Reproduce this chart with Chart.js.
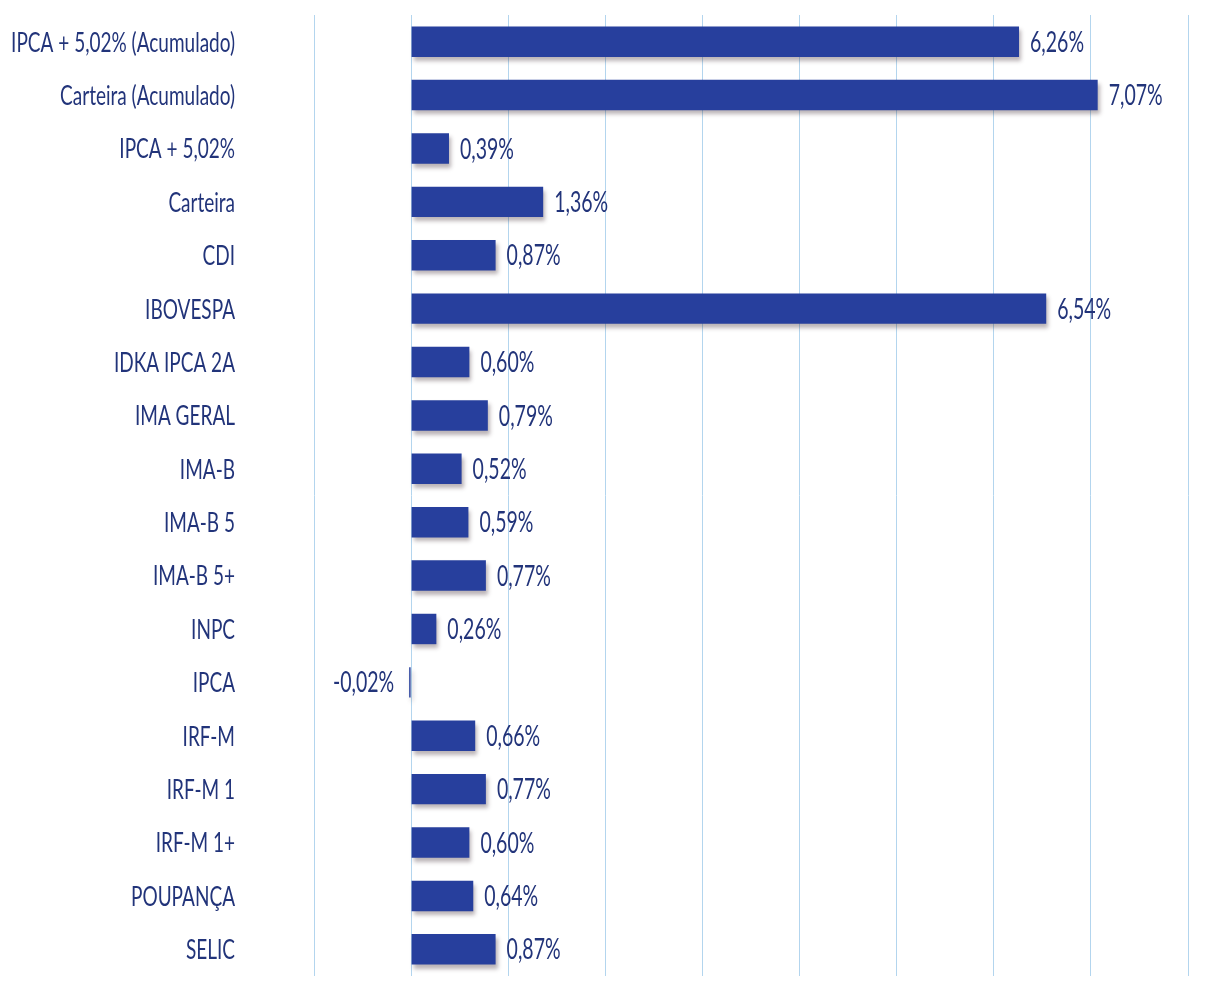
<!DOCTYPE html>
<html>
<head>
<meta charset="utf-8">
<script src="https://cdn.jsdelivr.net/npm/chart.js@4.4.1/dist/chart.umd.min.js"></script>
<style>
  html, body { margin: 0; padding: 0; background: #fff; }
  #wrap { width: 1215px; height: 1007px; }
</style>
</head>
<body>
<div id="wrap"><canvas id="myChart" width="1215" height="1007"></canvas></div>
<script>
const categories = [
  "IPCA + 5,02% (Acumulado)", "Carteira (Acumulado)", "IPCA + 5,02%", "Carteira",
  "CDI", "IBOVESPA", "IDKA IPCA 2A", "IMA GERAL", "IMA-B", "IMA-B 5", "IMA-B 5+",
  "INPC", "IPCA", "IRF-M", "IRF-M 1", "IRF-M 1+", "POUPANÇA", "SELIC"
];
const returns = [6.26, 7.07, 0.39, 1.36, 0.87, 6.54, 0.60, 0.79, 0.52, 0.59, 0.77,
  0.26, -0.02, 0.66, 0.77, 0.60, 0.64, 0.87];
const axisMin = -1;
const axisMax = 8;

const textColor = "#22347a";
const fontFamily = "Lato, 'Open Sans', sans-serif";
const stretchY = 1.45; // the scanned chart text is taller than it is wide

const fmt = (v) => v.toFixed(2).replace(".", ",") + "%";

function drawTallText(ctx, text, x, y, align) {
  ctx.save();
  ctx.translate(x, y);
  ctx.scale(1, stretchY);
  ctx.textAlign = align;
  ctx.textBaseline = "middle";
  ctx.fillText(text, 0, 0);
  ctx.restore();
}

// drop shadow under the bars
const barShadow = {
  id: "barShadow",
  beforeDatasetDraw(chart) {
    const ctx = chart.ctx;
    ctx.save();
    ctx.shadowColor = "rgba(60,40,50,0.35)";
    ctx.shadowOffsetX = 2;
    ctx.shadowOffsetY = 4;
    ctx.shadowBlur = 4;
  },
  afterDatasetDraw(chart) {
    chart.ctx.restore();
  },
};

// category names on the left and value labels next to the bars
const textLabels = {
  id: "textLabels",
  afterDatasetsDraw(chart) {
    const ctx = chart.ctx;
    const yScale = chart.scales.y;
    const meta = chart.getDatasetMeta(0);
    ctx.save();
    ctx.fillStyle = textColor;

    ctx.font = "19px " + fontFamily;
    categories.forEach((name, i) => {
      drawTallText(ctx, name, 235, yScale.getPixelForValue(i) + 1, "right");
    });

    ctx.font = "19.5px " + fontFamily;
    meta.data.forEach((bar, i) => {
      const v = returns[i];
      if (v < 0) {
        drawTallText(ctx, fmt(v), bar.x - 15, bar.y + 1, "right");
      } else {
        drawTallText(ctx, fmt(v), bar.x + 11, bar.y + 1, "left");
      }
    });
    ctx.restore();
  },
};

new Chart(document.getElementById("myChart"), {
  type: "bar",
  data: {
    labels: categories,
    datasets: [
      {
        data: returns,
        backgroundColor: "#273f9d",
        borderWidth: 0,
        barPercentage: 0.57,
        categoryPercentage: 1,
      },
    ],
  },
  options: {
    indexAxis: "y",
    responsive: false,
    animation: false,
    layout: { padding: { top: 15, right: 27, bottom: 31, left: 0 } },
    plugins: {
      legend: { display: false },
      tooltip: { enabled: false },
    },
    scales: {
      x: {
        min: axisMin,
        max: axisMax,
        ticks: { display: false, stepSize: 1 },
        grid: { color: "#b3d5ee", lineWidth: 1, drawTicks: false },
        border: { display: false },
      },
      y: {
        afterFit: (axis) => {
          axis.width = 314;
          axis.paddingTop = 0;
          axis.paddingBottom = 0;
        },
        ticks: { display: false },
        grid: { display: false, drawTicks: false },
        border: { display: false },
      },
    },
  },
  plugins: [barShadow, textLabels],
});
</script>
</body>
</html>
